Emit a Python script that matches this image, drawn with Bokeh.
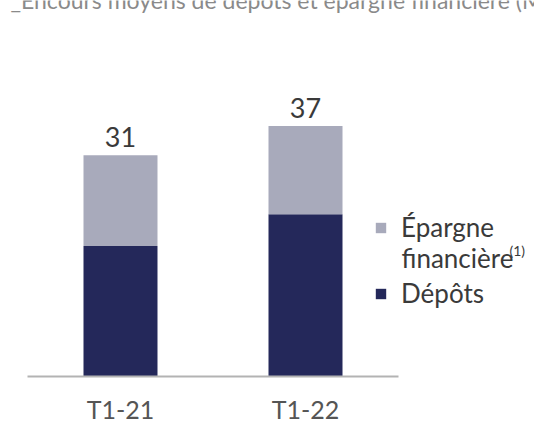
from bokeh.plotting import figure
from bokeh.models import Range1d, Label, Legend, LegendItem, ColumnDataSource, FixedTicker, LinearAxis
from bokeh.core.properties import value
from bokeh.embed import file_html
from bokeh.resources import INLINE

# ---- data ----
categories = ["T1-21", "T1-22"]
depots = [18.8, 23.4]
epargne = [13.1, 12.7]
total_labels = ["31", "37"]
legend_depots = "Dépôts"
legend_epargne_1 = "Épargne"
legend_epargne_2 = "financière"
legend_note = "(1)"
title_text = "_Encours moyens de dépôts et épargne financière (Md€)"

DARK = "#24285a"
LIGHT = "#a8aabb"
FONT = "Lato"

xpos = list(range(len(categories)))

p = figure(x_range=Range1d(-0.6486, 2.2378), y_range=Range1d(0, 54.2),
           width=534, height=426, output_backend="svg", toolbar_location=None,
           min_border_left=0, min_border_right=0, min_border_top=0, min_border_bottom=49,
           x_axis_location=None, y_axis_location=None)
p.outline_line_color = None
p.grid.visible = False
p.background_fill_color = None
p.border_fill_color = None

src = ColumnDataSource(dict(x=xpos, depots=depots, epargne=epargne,
                            total=[a + b for a, b in zip(depots, epargne)],
                            lbl=total_labels))
r = p.vbar_stack(["depots", "epargne"], x="x", width=0.4, source=src,
                 color=[DARK, LIGHT], line_color=None)
p.text(x="x", y="total", text="lbl", source=src, text_align="center",
       text_baseline="middle", y_offset=-18, text_font_size="27px",
       text_color="#3a3a3a", text_font=value(FONT))

xa = LinearAxis(ticker=FixedTicker(ticks=xpos),
                major_label_overrides={i: c for i, c in zip(xpos, categories)},
                bounds=(xpos[0] - 0.5, xpos[-1] + 0.5))
xa.axis_line_color = "#b3b3b3"
xa.axis_line_width = 2
xa.major_tick_line_color = None
xa.minor_tick_line_color = None
xa.major_tick_out = 0
xa.major_tick_in = 0
xa.major_label_text_font = FONT
xa.major_label_text_font_size = "25px"
xa.major_label_text_color = "#555555"
xa.major_label_standoff = 17
p.add_layout(xa, "below")

legend = Legend(items=[LegendItem(label=legend_epargne_1, renderers=[r[1]]),
                       LegendItem(label=legend_depots, renderers=[r[0]])],
                location=(374, 67), glyph_width=13, glyph_height=13,
                label_standoff=14, padding=0, margin=0, spacing=34,
                border_line_color=None, background_fill_color=None,
                background_fill_alpha=0,
                label_text_font=FONT, label_text_font_size="26px",
                label_text_color="#3a3a3a")
p.add_layout(legend, "center")

p.add_layout(Label(x=401, y=119, x_units="screen", y_units="screen", text=legend_epargne_2,
                   text_font=FONT, text_font_size="26px", text_color="#3a3a3a",
                   text_baseline="middle"))
p.add_layout(Label(x=509, y=126, x_units="screen", y_units="screen", text=legend_note,
                   text_font=FONT, text_font_size="14px", text_color="#3a3a3a",
                   text_baseline="middle"))

p.add_layout(Label(x=10, y=377, x_units="screen", y_units="screen", text=title_text,
                   text_font=FONT, text_font_size="23px", text_color="#8a8a8a",
                   text_baseline="middle"))

open("out.html", "w").write(file_html(p, INLINE))
